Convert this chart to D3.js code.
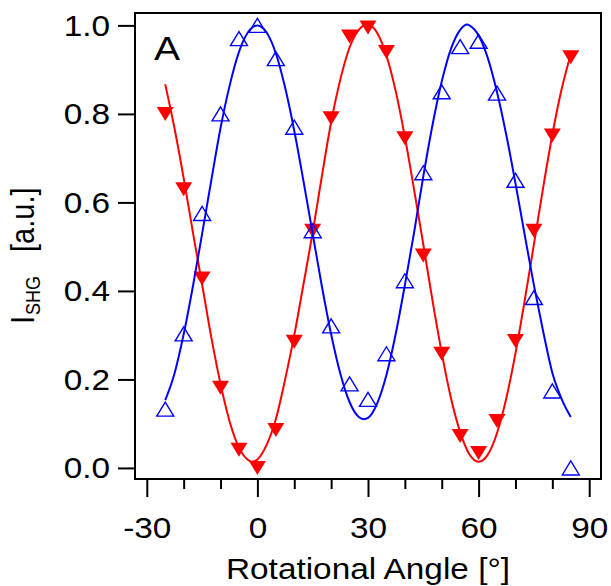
<!DOCTYPE html>
<html>
<head>
<meta charset="utf-8">
<script src="https://cdn.jsdelivr.net/npm/d3@7"></script>
<style>
  html, body { margin: 0; padding: 0; background: #fff; }
  svg { display: block; }
  text { font-family: "Liberation Sans", Arial, Helvetica, sans-serif; fill: #000; }
</style>
</head>
<body>
<svg id="chart" width="611" height="586"></svg>
<script>
// ---- data ----
const angles = [-25,-20,-15,-10,-5,0,5,10,15,20,25,30,35,40,45,50,55,60,65,70,75,80,85];
const blueValues = [0.133,0.303,0.575,0.80,0.97,1.0,0.925,0.77,0.536,0.321,0.19,0.155,0.258,0.423,0.667,0.85,0.952,0.964,0.847,0.65,0.385,0.174,0.0];
const redValues  = [0.80,0.63,0.428,0.181,0.041,0.0,0.086,0.285,0.536,0.79,0.975,0.995,0.94,0.745,0.48,0.258,0.072,0.034,0.106,0.287,0.536,0.751,0.928];

const redFitAngles = [-25,-22.5,-20,-17.5,-15,-12.5,-10,-7.5,-5,-2.5,-1.4,0,2.5,5,7.5,10,12.5,15,17.5,20,22.5,25,27.5,29.8,32.5,35,37.5,40,42.5,45,47.5,50,52.5,55,57.5,60,62.5,65,67.5,70,72.5,75,77.5,80,82.5,85];
const redFitValues = [0.867,0.768,0.655,0.533,0.415,0.295,0.190,0.104,0.046,0.018,0.014,0.019,0.052,0.110,0.199,0.300,0.415,0.532,0.660,0.781,0.878,0.950,0.990,1.002,0.983,0.932,0.852,0.748,0.629,0.505,0.378,0.260,0.158,0.081,0.031,0.014,0.030,0.079,0.157,0.259,0.378,0.505,0.633,0.753,0.855,0.935];

const blueFitAngles = [-25,-22.5,-20,-17.5,-15,-12.5,-10,-7.5,-5,-2.5,0,2.5,5,7.5,10,12.5,15,17.5,20,22.5,25,27.5,28.9,30,32.5,35,37.5,40,42.5,45,47.5,50,52.5,55,56.9,57.5,60,62.5,65,67.5,70,72.5,75,77.5,80,82.5,85];
const blueFitValues = [0.153,0.213,0.302,0.410,0.529,0.650,0.768,0.865,0.940,0.985,1.0,0.984,0.937,0.860,0.762,0.648,0.529,0.410,0.302,0.213,0.149,0.115,0.110,0.113,0.146,0.210,0.302,0.413,0.532,0.659,0.775,0.873,0.947,0.990,1.002,1.0,0.977,0.926,0.849,0.753,0.643,0.527,0.413,0.309,0.215,0.156,0.115];

const xMajorTicks = [-30,0,30,60,90];
const xTickLabels = ["-30","0","30","60","90"];
const xMinorTicks = [-20,-10,10,20,40,50,70,80];
const yTicks = [0,0.2,0.4,0.6,0.8,1.0];
const yTickLabels = ["0.0","0.2","0.4","0.6","0.8","1.0"];
const xTitle = "Rotational Angle [°]";
const panelLabel = "A";

// ---- layout ----
const SX = 1.15; // horizontal glyph stretch seen in reference
const plotL = 135, plotR = 601, plotT = 13, plotB = 479;
const svg = d3.select("#chart");

const x = d3.scaleLinear().domain([-33.2, 93.2]).range([plotL, plotR]);
const y = d3.scaleLinear().domain([-0.025, 1.028]).range([plotB, plotT]);

// axes
const gxMinor = svg.append("g").attr("transform", `translate(0,${plotB})`)
  .call(d3.axisBottom(x).tickValues(xMinorTicks).tickSize(10).tickFormat(""));
const gx = svg.append("g").attr("transform", `translate(0,${plotB})`)
  .call(d3.axisBottom(x).tickValues(xMajorTicks).tickSize(18)
    .tickFormat((d, i) => xTickLabels[i]));
const gy = svg.append("g").attr("transform", `translate(${plotL},0)`)
  .call(d3.axisLeft(y).tickValues(yTicks).tickSize(17)
    .tickFormat((d, i) => yTickLabels[i]));

[gxMinor, gx, gy].forEach(g => {
  g.select(".domain").remove();
  g.selectAll(".tick line").attr("stroke", "#000").attr("stroke-width", 2);
});
gx.selectAll(".tick text")
  .attr("dy", null).attr("y", 59)
  .attr("transform", `scale(${SX},1)`)
  .style("font-size", "29px").attr("fill", "#000");
gy.selectAll(".tick text")
  .attr("dy", null).attr("y", 10).attr("x", -25 / SX)
  .attr("transform", `scale(${SX},1)`)
  .style("font-size", "29px").attr("fill", "#000");

// frame
svg.append("rect")
  .attr("x", plotL).attr("y", plotT)
  .attr("width", plotR - plotL).attr("height", plotB - plotT)
  .attr("fill", "none").attr("stroke", "#000").attr("stroke-width", 2);

// fit curves + markers
const line = d3.line().x(d => x(d[0])).y(d => y(d[1])).curve(d3.curveMonotoneX);
const redFit = redFitAngles.map((a, i) => [a, redFitValues[i]]);
const blueFit = blueFitAngles.map((a, i) => [a, blueFitValues[i]]);

svg.append("path").datum(redFit).attr("d", line)
  .attr("fill", "none").attr("stroke", "#ff0000").attr("stroke-width", 2);

const tw = 17, th = 14;
svg.append("g").selectAll("path")
  .data(angles.map((a, i) => [a, redValues[i]]))
  .join("path")
  .attr("transform", d => `translate(${x(d[0])},${y(d[1])})`)
  .attr("d", `M${-tw/2},${-th/2}L${tw/2},${-th/2}L0,${th/2}Z`)
  .attr("fill", "#ff0000");

svg.append("path").datum(blueFit).attr("d", line)
  .attr("fill", "none").attr("stroke", "#0000ff").attr("stroke-width", 2);

svg.append("g").selectAll("path")
  .data(angles.map((a, i) => [a, blueValues[i]]))
  .join("path")
  .attr("transform", d => `translate(${x(d[0])},${y(d[1])})`)
  .attr("d", `M0,${-th/2}L${tw/2},${th/2}L${-tw/2},${th/2}Z`)
  .attr("fill", "none").attr("stroke", "#0000ff").attr("stroke-width", 1.4);

// panel label
svg.append("text")
  .attr("transform", `translate(154,60) scale(${SX},1)`)
  .style("font-size", "34px").text(panelLabel);

// x title
svg.append("text")
  .attr("transform", `translate(${(plotL + plotR) / 2},579) scale(${SX},1)`)
  .attr("text-anchor", "middle").style("font-size", "29px").text(xTitle);

// y title  I_SHG  [a.u.]
const yt = svg.append("text")
  .attr("transform", `translate(34,324) scale(${SX},1) rotate(-90)`)
  .attr("text-anchor", "start").style("font-size", "29px");
yt.append("tspan").text("I");
yt.append("tspan").attr("dy", 5).attr("dx", 1).style("font-size", "18px").text("SHG");
yt.append("tspan").attr("dy", -5).attr("dx", 24).text("[a.u.]");
</script>
</body>
</html>
